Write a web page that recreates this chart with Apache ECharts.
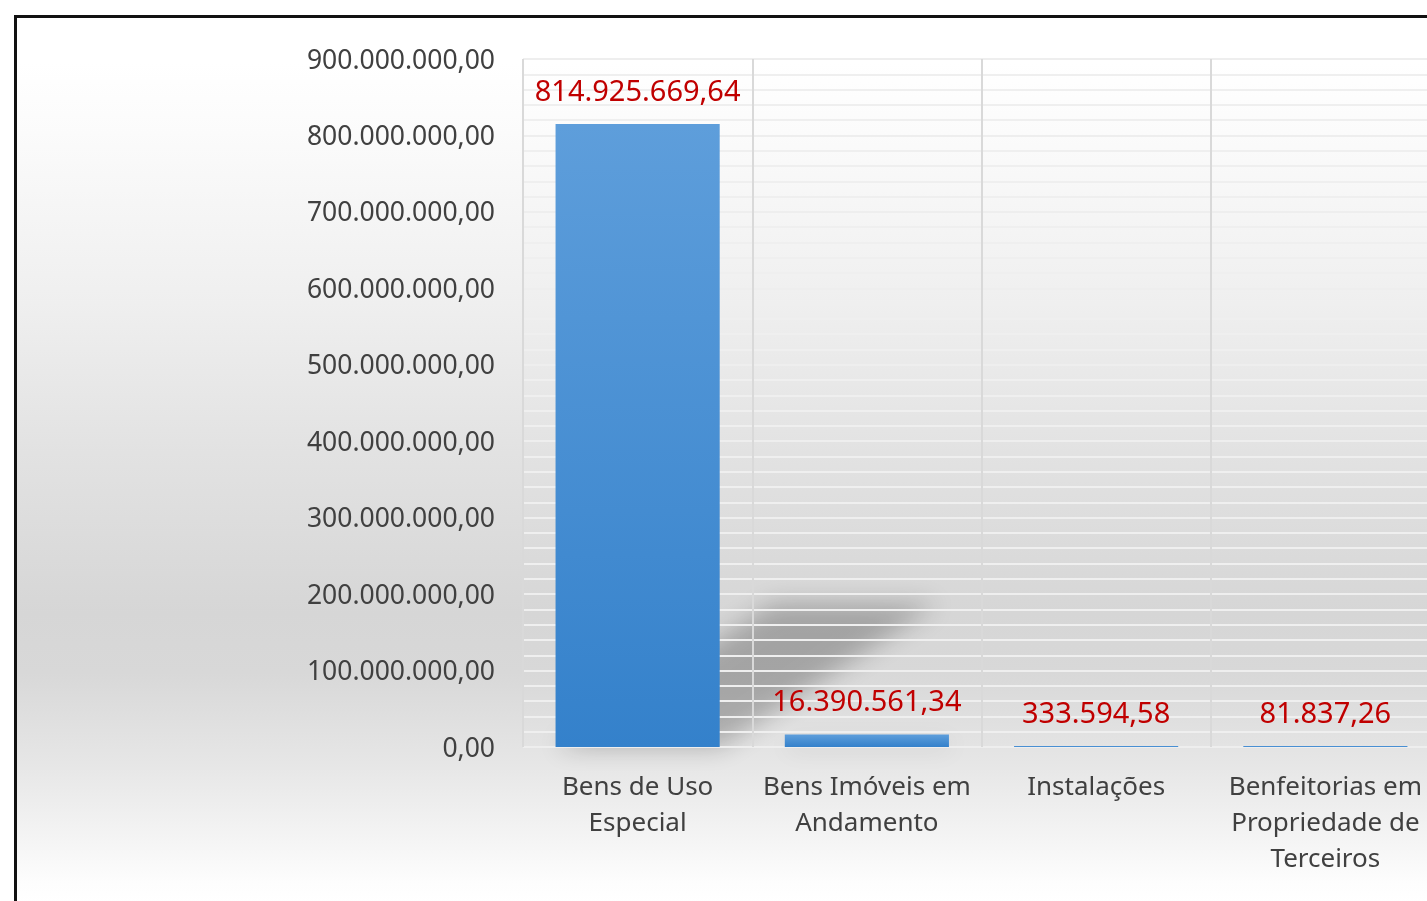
<!DOCTYPE html>
<html>
<head>
<meta charset="utf-8">
<script src="https://cdn.jsdelivr.net/npm/echarts@6/dist/echarts.min.js"></script>
<style>
  html, body { margin:0; padding:0; width:1427px; height:901px; overflow:hidden; background:#fff; }
  #frame { position:absolute; left:14px; top:15px; width:1500px; height:1000px;
           border-left:3px solid #111; border-top:3px solid #111; box-sizing:border-box;
    background: linear-gradient(to bottom, #ffffff 0px, #ffffff 45px, #fbfbfb 115px, #efefef 285px, #e2e2e2 435px, #d6d6d6 595px, #d8d8d8 655px, #e6e6e6 745px, #f5f5f5 825px, #fdfdfd 865px, #ffffff 886px, #ffffff 1000px); }
  #chart { position:absolute; left:0; top:0; width:1470px; height:901px; }
</style>
</head>
<body>
<div id="frame"></div>
<div id="chart"></div>
<script>
const categories = ['Bens de Uso\nEspecial', 'Bens Imóveis em\nAndamento', 'Instalações', 'Benfeitorias em\nPropriedade de\nTerceiros'];
const values = [814925669.64, 16390561.34, 333594.58, 81837.26];
const yMin = 0, yMax = 900000000, yInterval = 100000000;

function fmt(v) {
  const parts = Number(v).toFixed(2).split('.');
  return parts[0].replace(/\B(?=(\d{3})+(?!\d))/g, '.') + ',' + parts[1];
}

const chart = echarts.init(document.getElementById('chart'), null, { renderer: 'canvas' });
const FONT = '"Noto Sans", "Open Sans", sans-serif';

chart.setOption({
  backgroundColor: 'transparent',
  animation: false,
  grid: { left: 523, top: 59, width: 917, height: 688, containLabel: false },
  xAxis: {
    type: 'category',
    data: categories,
    axisLine: { show: false },
    axisTick: { show: false },
    axisLabel: { interval: 0, margin: 23, color: '#404040', fontSize: 26, lineHeight: 36, fontFamily: FONT },
    splitLine: { show: true, interval: 0, lineStyle: { color: '#d9d9d9', width: 2 } }
  },
  yAxis: {
    type: 'value',
    min: yMin, max: yMax, interval: yInterval,
    axisLine: { show: false },
    axisTick: { show: false },
    axisLabel: {
      margin: 28, color: '#404040', fontSize: 26.5, fontFamily: FONT,
      formatter: v => '{a|' + fmt(v) + '}',
      rich: { a: { color: '#404040', fontSize: 26.5, fontFamily: FONT, padding: [4, 0, 0, 0] } }
    },
    splitLine: { show: true, lineStyle: { color: '#eeeeee', width: 2 } },
    minorTick: { show: false, splitNumber: 5 },
    minorSplitLine: { show: true, lineStyle: { color: '#efefef', width: 2 } }
  },
  series: [
    {
      type: 'custom',
      z: -1,
      silent: true,
      data: values.map((v, i) => [i, v]),
      renderItem: function (params, api) {
        const base = api.coord([api.value(0), 0]);
        const top = api.coord([api.value(0), api.value(1)]);
        const w = api.size([1, 0])[0] * 0.716;
        const h = base[1] - top[1];
        const sh = h * 0.23, dx = h * 0.35;
        const off = 3000;
        const x0 = base[0] - w / 2 - off, x1 = base[0] + w / 2 - off;
        return {
          type: 'polygon',
          shape: { points: [[x0, base[1]], [x1, base[1]], [x1 + dx, base[1] - sh], [x0 + dx, base[1] - sh]] },
          style: { fill: '#000', shadowBlur: 24, shadowColor: 'rgba(0,0,0,0.24)', shadowOffsetX: off, shadowOffsetY: 0 }
        };
      }
    },
    {
      type: 'bar',
      data: values,
      barCategoryGap: '28.4%',
      barMinHeight: 1,
      itemStyle: {
        color: new echarts.graphic.LinearGradient(0, 0, 0, 1, [
          { offset: 0, color: '#5e9edb' },
          { offset: 1, color: '#3481cb' }
        ])
      },
      label: {
        show: true, position: 'top', distance: 17,
        color: '#c00000', fontSize: 29, fontFamily: FONT,
        formatter: p => fmt(p.value)
      }
    }
  ]
});
</script>
</body>
</html>
